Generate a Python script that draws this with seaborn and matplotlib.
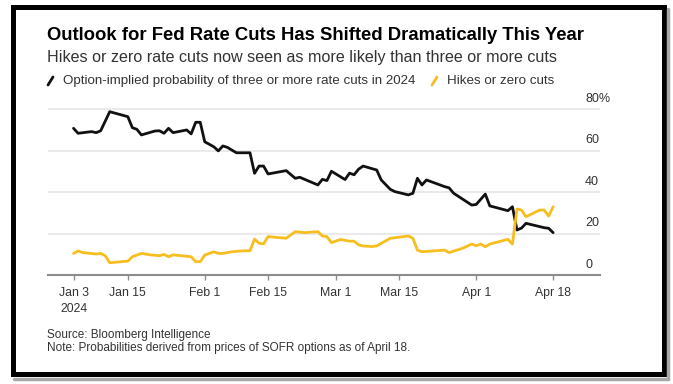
import matplotlib
matplotlib.use("Agg")
import matplotlib.pyplot as plt
import seaborn as sns
import pandas as pd
from matplotlib.transforms import ScaledTranslation
from matplotlib.lines import Line2D
from matplotlib.patches import Rectangle

# ---------------- data ----------------
cut_dates = ["2024-01-03", "2024-01-04", "2024-01-07", "2024-01-08", "2024-01-09", "2024-01-11",
             "2024-01-15", "2024-01-16", "2024-01-17", "2024-01-18", "2024-01-21", "2024-01-22",
             "2024-01-23", "2024-01-24", "2024-01-25", "2024-01-28", "2024-01-29", "2024-01-30",
             "2024-01-31", "2024-02-01", "2024-02-03", "2024-02-04", "2024-02-05", "2024-02-06",
             "2024-02-08", "2024-02-11", "2024-02-12", "2024-02-13", "2024-02-14", "2024-02-15",
             "2024-02-19", "2024-02-21", "2024-02-22", "2024-02-26", "2024-02-27", "2024-02-28",
             "2024-02-29", "2024-03-03", "2024-03-04", "2024-03-05", "2024-03-06", "2024-03-07",
             "2024-03-10", "2024-03-11", "2024-03-13", "2024-03-14", "2024-03-17", "2024-03-18",
             "2024-03-19", "2024-03-20", "2024-03-21", "2024-03-25", "2024-03-26", "2024-03-27",
             "2024-03-31", "2024-04-01", "2024-04-03", "2024-04-04", "2024-04-08", "2024-04-09",
             "2024-04-10", "2024-04-11", "2024-04-12", "2024-04-16", "2024-04-17", "2024-04-18"]
cut_values = [70.7, 68.3, 69.1, 68.6, 69.5, 78.7,
              76.3, 71.0, 70.2, 67.5, 69.4, 69.5,
              68.3, 70.7, 68.6, 69.9, 68.0, 73.6,
              73.6, 64.2, 61.8, 59.8, 62.2, 61.5,
              58.9, 58.9, 49.0, 52.5, 52.5, 48.7,
              50.3, 46.6, 47.1, 43.4, 46.1, 45.5,
              50.0, 46.0, 49.1, 48.3, 51.0, 52.5,
              50.6, 45.8, 41.3, 40.2, 38.6, 39.4,
              46.6, 43.4, 45.8, 42.6, 42.0, 39.4,
              33.7, 34.0, 39.0, 33.3, 31.0, 32.9,
              21.7, 22.6, 24.9, 22.8, 22.5, 20.4]

hike_dates = ["2024-01-03", "2024-01-04", "2024-01-05", "2024-01-08", "2024-01-09", "2024-01-10",
              "2024-01-11", "2024-01-15", "2024-01-16", "2024-01-18", "2024-01-20", "2024-01-22",
              "2024-01-23", "2024-01-24", "2024-01-25", "2024-01-29", "2024-01-30", "2024-01-31",
              "2024-02-01", "2024-02-03", "2024-02-04", "2024-02-05", "2024-02-07", "2024-02-09",
              "2024-02-11", "2024-02-12", "2024-02-13", "2024-02-14", "2024-02-15", "2024-02-19",
              "2024-02-21", "2024-02-23", "2024-02-26", "2024-02-27", "2024-02-28", "2024-02-29",
              "2024-03-02", "2024-03-04", "2024-03-05", "2024-03-06", "2024-03-07", "2024-03-09",
              "2024-03-10", "2024-03-13", "2024-03-17", "2024-03-18", "2024-03-19", "2024-03-20",
              "2024-03-25", "2024-03-26", "2024-03-29", "2024-03-31", "2024-04-01", "2024-04-02",
              "2024-04-03", "2024-04-04", "2024-04-08", "2024-04-09", "2024-04-10", "2024-04-11",
              "2024-04-12", "2024-04-15", "2024-04-16", "2024-04-17", "2024-04-18"]
hike_values = [10.4, 11.6, 10.8, 10.1, 10.4, 9.3,
               5.9, 6.7, 8.8, 10.4, 9.7, 9.3,
               9.9, 8.8, 9.7, 8.8, 6.4, 6.4,
               9.6, 11.2, 10.4, 10.4, 11.2, 11.6,
               11.7, 17.3, 15.3, 15.0, 18.5, 17.7,
               20.9, 20.4, 20.9, 18.8, 18.5, 15.6,
               17.1, 16.3, 16.3, 14.5, 14.0, 13.7,
               14.0, 17.7, 18.8, 17.7, 12.0, 11.2,
               12.0, 10.8, 12.9, 14.9, 14.1, 14.9,
               13.6, 14.9, 17.2, 14.9, 31.8, 31.3,
               28.1, 31.3, 31.3, 28.4, 32.9]

x_tick_dates = ["2024-01-03", "2024-01-15", "2024-02-01", "2024-02-15",
                "2024-03-01", "2024-03-15", "2024-04-01", "2024-04-18"]
x_tick_labels = ["Jan 3\n2024", "Jan 15", "Feb 1", "Feb 15", "Mar 1", "Mar 15", "Apr 1", "Apr 18"]
y_ticks = [0, 20, 40, 60, 80]
y_tick_labels = ["0", "20", "40", "60", "80%"]

title = "Outlook for Fed Rate Cuts Has Shifted Dramatically This Year"
subtitle = "Hikes or zero rate cuts now seen as more likely than three or more cuts"
legend_labels = ["Option-implied probability of three or more rate cuts in 2024", "Hikes or zero cuts"]
source = "Source: Bloomberg Intelligence"
note = "Note: Probabilities derived from prices of SOFR options as of April 18."

BLACK = "#111111"
YELLOW = "#F6BE1E"

# ---------------- style ----------------
sns.set_theme(style="white")
plt.rcParams['font.family'] = ['Liberation Sans', 'DejaVu Sans']

W, H = 673, 384
fig = plt.figure(figsize=(W / 100, H / 100), dpi=100)
fig.patch.set_facecolor("white")

def fx(px):
    return px / W

def fy(py):
    return 1 - py / H

# axes: x 48..600 px, y=0 at 275 px, 2.075 px per unit
ymax = 81
ax = fig.add_axes([fx(48), fy(275), (600 - 48) / W, ymax * 2.075 / H])
ax.set_facecolor("white")

df_cuts = pd.DataFrame({"date": pd.to_datetime(cut_dates), "value": cut_values})
df_hikes = pd.DataFrame({"date": pd.to_datetime(hike_dates), "value": hike_values})

sns.lineplot(data=df_cuts, x="date", y="value", ax=ax, color=BLACK, linewidth=2.0, zorder=3)
sns.lineplot(data=df_hikes, x="date", y="value", ax=ax, color=YELLOW, linewidth=2.0, zorder=4)

start = pd.Timestamp("2024-01-03")
ax.set_xlim(start - pd.Timedelta(days=5.64), start + pd.Timedelta(days=116.35))
ax.set_ylim(0, ymax)
ax.set_xlabel("")
ax.set_ylabel("")

ax.set_xticks(pd.to_datetime(x_tick_dates))
ax.set_xticklabels(x_tick_labels)
ax.set_yticks(y_ticks)
ax.set_yticklabels(y_tick_labels)

ax.yaxis.tick_right()
ax.tick_params(axis="y", length=0, pad=-15 * 0.72, labelsize=9, labelcolor="#333333")
ax.tick_params(axis="x", length=5 * 0.72, width=1, color="#8c8c8c", pad=5,
               labelsize=8.8, labelcolor="#333333", bottom=True)
for lbl in ax.get_xticklabels():
    lbl.set_linespacing(1.45)

offset = ScaledTranslation(0, 12 / 100, fig.dpi_scale_trans)
for lbl in ax.get_yticklabels():
    lbl.set_transform(lbl.get_transform() + offset)
    lbl.set_horizontalalignment("left")

ax.grid(axis="y", color="#e4e4e4", linewidth=1.1)
ax.grid(axis="x", visible=False)
for s in ["top", "left", "right"]:
    ax.spines[s].set_visible(False)
ax.spines["bottom"].set_color("#8c8c8c")
ax.spines["bottom"].set_linewidth(1.5)
ax.spines["bottom"].set_zorder(5)

# ---------------- texts ----------------
fig.text(fx(47), fy(40), title, fontsize=13.3, fontweight="bold", color="#000000", va="baseline")
fig.text(fx(47), fy(62), subtitle, fontsize=11.6, color="#333333", va="baseline")

fig.add_artist(Line2D([fx(48), fx(53)], [fy(85), fy(77)], color=BLACK, linewidth=2.0,
                      transform=fig.transFigure))
fig.text(fx(63), fy(84), legend_labels[0], fontsize=9.6, color="#333333", va="baseline")
fig.add_artist(Line2D([fx(432), fx(437)], [fy(85), fy(77)], color=YELLOW, linewidth=2.0,
                      transform=fig.transFigure))
fig.text(fx(447), fy(84), legend_labels[1], fontsize=9.6, color="#333333", va="baseline")

fig.text(fx(47), fy(338), source, fontsize=8.5, color="#333333", va="baseline")
fig.text(fx(47), fy(351), note, fontsize=8.5, color="#333333", va="baseline")

# ---------------- frame ----------------
fig.add_artist(Line2D([fx(668), fx(668)], [fy(9), fy(379)], color="#a8a8a8", linewidth=2.5,
                      transform=fig.transFigure))
fig.add_artist(Line2D([fx(14), fx(668)], [fy(378.5), fy(378.5)], color="#a8a8a8", linewidth=2.5,
                      transform=fig.transFigure))
fig.add_artist(Rectangle((fx(12.5), fy(373.5)), (663.5 - 12.5) / W, (373.5 - 6.5) / H,
                         transform=fig.transFigure, fill=False, linewidth=5 * 0.72,
                         edgecolor="#000000"))

fig.savefig("out.png", dpi=100, facecolor="white")
